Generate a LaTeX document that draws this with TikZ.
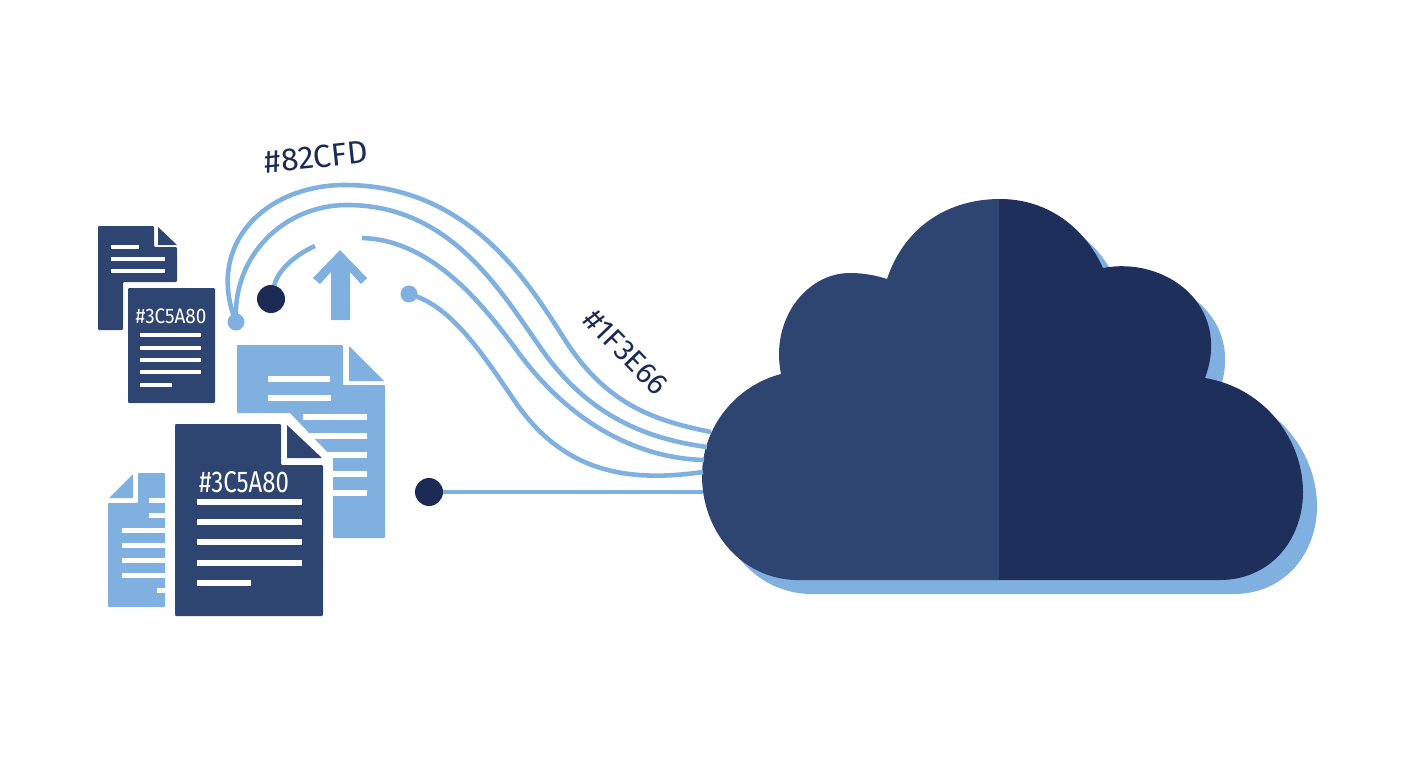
\documentclass[tikz,border=0pt]{standalone}
\usepackage{fontspec}
\setmainfont{Fira Sans}
\definecolor{deepblue}{HTML}{2E4471}
\definecolor{darkblue}{HTML}{1E2F5B}
\definecolor{softblue}{HTML}{7FB0E0}
\definecolor{inkblue}{HTML}{1C2B56}
\newcommand{\cloudpath}{(795,580) .. controls (740,578) and (702,530) .. (702,476) .. controls (702,425) and (738,385) .. (781,374) .. controls (770,320) and (806,273) .. (850,273) .. controls (865,273) and (878,276) .. (887,279) .. controls (905,225) and (950,199) .. (1000,199) .. controls (1048,199) and (1085,228) .. (1103,268) .. controls (1165,256) and (1232,305) .. (1205,378) .. controls (1265,388) and (1303,440) .. (1303,492) .. controls (1303,540) and (1270,580) .. (1220,580) -- cycle}
\tikzset{>=stealth,
  wire/.style={draw=softblue,line width=4.6pt},
  darksheet/.style={fill=deepblue,rounded corners=1.2pt},
  lightsheet/.style={fill=softblue,rounded corners=.8pt},
  hexlabel/.style={text=inkblue,inner sep=0pt},
  doclabel/.style={text=white,inner sep=0pt},
  bigdot/.style={circle,fill=inkblue,inner sep=0pt,minimum size=28pt},
  smalldot/.style={circle,fill=softblue,inner sep=0pt,minimum size=17pt}}
\begin{document}
\begin{tikzpicture}[x=1pt,y=-1pt]
  \useasboundingbox (0,0) rectangle (1408,768);
  % small dark sheet, back
  \fill[darksheet] (98,226) -- (154,226) -- (154,247) -- (177,247) -- (177,282) -- (123,282) -- (123,330) -- (98,330) -- cycle;
  \fill[deepblue] (158,227) -- (177,245) -- (158,245) -- cycle;
  \foreach \ya/\xb in {247/139,259/165,271/165}
    \draw[draw=white,line width=4pt] (111,\ya) -- (\xb,\ya);
  % small dark sheet, front
  \fill[darksheet] (128,288) rectangle (215,403);
  \node[doclabel,font=\fontsize{21pt}{21pt}\selectfont,xscale=.9] (smalltag) at (171,316) {\#3C5A80};
  \foreach \ya/\xb in {335/201,348/201,360/201,372/201,385/172}
    \draw[draw=white,line width=4pt] (140,\ya) -- (\xb,\ya);
  % light sheet, back
  \fill[lightsheet] (237,345) -- (343,345) -- (343,385) -- (385,385) -- (385,538) -- (333,538) -- (333,458) -- (290,413) -- (237,413) -- cycle;
  \fill[softblue] (349,346) -- (384,381) -- (349,381) -- cycle;
  \foreach \ya/\xa/\xb in {379/268/330,398/268/331,417/303/367,436/310/367,455/327/367,474/333/367,493/333/367}
    \draw[draw=white,line width=6pt] (\xa,\ya) -- (\xb,\ya);
  % light sheet, left
  \fill[lightsheet] (108,503) -- (138,503) -- (138,473) -- (165,473) -- (165,607) -- (108,607) -- cycle;
  \fill[softblue] (109,498) -- (133,474) -- (133,498) -- cycle;
  \foreach \ya/\xa in {500/149,515/149,530/122,545/122,560/122,575/122,590/157}
    \draw[draw=white,line width=5pt] (\xa,\ya) -- (165,\ya);
  % big dark sheet
  \fill[darksheet] (175,424) -- (281,424) -- (281,465) -- (323,465) -- (323,616) -- (175,616) -- cycle;
  \fill[deepblue] (287,425) -- (322,458) -- (287,458) -- cycle;
  \node[doclabel,font=\fontsize{30pt}{30pt}\selectfont,xscale=.8] (bigtag) at (244,482) {\#3C5A80};
  \foreach \ya/\xb in {502/302,522/302,542/302,563/302,583/251}
    \draw[draw=white,line width=6.4pt] (197,\ya) -- (\xb,\ya);
  % arrow
  \fill[softblue] (331,320) -- (350,320) -- (350,272) -- (361,284) -- (367,278) -- (340,250) -- (313,278) -- (320,284) -- (331,272) -- cycle;
  % cloud
  \fill[softblue,shift={(14,14)}] \cloudpath;
  \begin{scope}
    \clip (690,180) rectangle (999,600);
    \fill[deepblue] \cloudpath;
  \end{scope}
  \begin{scope}
    \clip (999,180) rectangle (1340,600);
    \fill[darkblue] \cloudpath;
  \end{scope}
  % end points of the wires
  \node[smalldot] (hub) at (236,322) {};
  \node[smalldot] (tip) at (409,294) {};
  \node[bigdot] (dota) at (271,299) {};
  \node[bigdot] (dotb) at (429,492) {};
  \coordinate (ina) at (711,432);
  \coordinate (inb) at (707,447);
  \coordinate (inc) at (704,460);
  \coordinate (ind) at (703,472);
  \coordinate (ine) at (703,492);
  \coordinate (gapa) at (315,246);
  \coordinate (gapb) at (362,238);
  % wires
  \draw[wire] (hub.center) .. controls (205,245) and (265,185) .. (345,185) .. controls (470,185) and (530,285) .. (565,340) .. controls (605,402) and (650,420) .. (ina);
  \draw[wire] (hub.center) .. controls (232,255) and (285,205) .. (347,205) .. controls (450,205) and (500,290) .. (540,347) .. controls (585,412) and (640,438) .. (inb);
  \draw[wire] (dota) .. controls (278,270) and (295,255) .. (gapa);
  \draw[wire] (gapb) .. controls (430,240) and (480,300) .. (518,352) .. controls (565,416) and (630,458) .. (inc);
  \draw[wire] (tip.center) .. controls (450,305) and (480,350) .. (514,400) .. controls (560,468) and (620,484) .. (ind);
  \draw[wire] (dotb) -- (ine);
  % labels
  \node[hexlabel,font=\fontsize{32pt}{32pt}\selectfont,rotate=6] (cfd) at (316,157) {\#82CFD};
  \node[hexlabel,font=\fontsize{30pt}{30pt}\selectfont,rotate=-46] (hexb) at (626,352) {\#1F3E66};
\end{tikzpicture}
\end{document}
